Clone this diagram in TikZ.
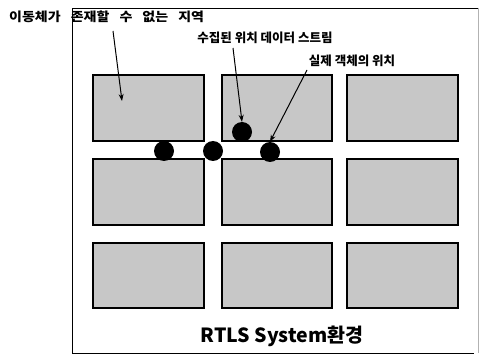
\documentclass[tikz,border=0pt]{standalone}
\usepackage{fontspec}
\newfontfamily\kr{Noto Sans CJK KR}
\usetikzlibrary{arrows.meta}
\newcommand{\wsp}{\hspace{9pt}}
\begin{document}
\begin{tikzpicture}[x=1pt,y=-1pt,
  zone/.style={draw=black,line width=1.5pt,fill=black!22},
  dot/.style={circle,fill=black,inner sep=0pt,minimum size=20pt},
  lbl/.style={font=\kr\bfseries\fontsize{12.5}{14}\selectfont,inner sep=0pt},
  ptr/.style={line width=1pt,-{Stealth[length=7pt,width=5pt]}}]
\useasboundingbox (0,0) rectangle (481,363);
% frame
\draw[line width=0.9pt] (478,8) -- (72,8) -- (72,353) -- (474,353);
\draw[line width=0.4pt,black!30] (478,8) -- (478,353);
% zones
\foreach \x/\xx [count=\i] in {93/204,222/332,347/458}{
  \foreach \y/\yy [count=\j] in {75/141,159/225,243/308}{
    \draw[zone] (\x,\y) rectangle (\xx,\yy);
  }
}
% dots
\node[dot] (d1) at (164,151) {};
\node[dot] (d2) at (213,151) {};
\node[dot] (d3) at (242,132) {};
\node[dot] (d4) at (270,152) {};
% labels
\node[lbl,anchor=west] (t1) at (9,17) {\scalebox{1.12}[1]{이동체가\wsp 존재할\wsp 수\wsp 없는\wsp 지역}};
\node[lbl] (t2) at (265,38) {수집된 위치 데이터 스트림};
\node[lbl] (t3) at (352,61) {실제 객체의 위치};
\node[font=\kr\bfseries\fontsize{19.5}{24}\selectfont,inner sep=0pt] (t4) at (282,336) {RTLS System환경};
% arrows
\coordinate (z1) at (122,101);
\draw[ptr] (113,31) -- (z1);
\draw[ptr] (233,48) -- (d3.north);
\draw[ptr] (307,70) -- (d4.north);
\end{tikzpicture}
\end{document}
